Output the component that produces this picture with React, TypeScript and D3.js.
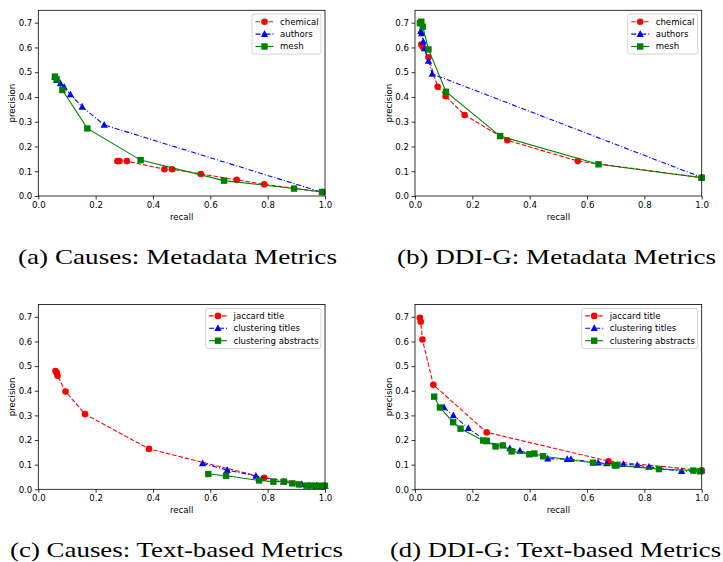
import { useEffect, useRef } from "react";
import * as d3 from "d3";

type Pt = [number, number];

// (a) Causes: metadata metrics  [recall, precision]
const causesChemical: Pt[] = [[0.276, 0.141], [0.283, 0.141], [0.309, 0.141], [0.44, 0.108], [0.467, 0.108], [0.567, 0.089], [0.692, 0.065], [0.788, 0.047], [0.99, 0.016]];
const causesAuthors: Pt[] = [[0.058, 0.48], [0.064, 0.468], [0.077, 0.455], [0.09, 0.44], [0.112, 0.41], [0.153, 0.36], [0.23, 0.287], [0.99, 0.015]];
const causesMesh: Pt[] = [[0.058, 0.482], [0.064, 0.471], [0.084, 0.428], [0.171, 0.273], [0.357, 0.145], [0.648, 0.062], [0.892, 0.03], [0.99, 0.016]];

// (b) DDI-G: metadata metrics
const ddiChemical: Pt[] = [[0.022, 0.612], [0.027, 0.603], [0.047, 0.56], [0.079, 0.441], [0.107, 0.403], [0.173, 0.327], [0.322, 0.225], [0.568, 0.141], [1.0, 0.074]];
const ddiAuthors: Pt[] = [[0.02, 0.666], [0.023, 0.657], [0.029, 0.623], [0.033, 0.596], [0.047, 0.545], [0.06, 0.493], [1.0, 0.075]];
const ddiMesh: Pt[] = [[0.017, 0.698], [0.022, 0.704], [0.027, 0.684], [0.047, 0.592], [0.108, 0.421], [0.297, 0.242], [0.64, 0.128], [1.0, 0.074]];

// (c) Causes: text-based metrics
const causesJaccard: Pt[] = [[0.06, 0.48], [0.064, 0.474], [0.067, 0.461], [0.095, 0.397], [0.163, 0.305], [0.386, 0.164], [0.788, 0.047], [0.99, 0.014]];
const causesTitles: Pt[] = [[0.573, 0.105], [0.659, 0.078], [0.759, 0.054], [0.855, 0.031], [0.919, 0.02], [0.971, 0.015], [1.0, 0.014]];
const causesAbstracts: Pt[] = [[0.593, 0.062], [0.655, 0.055], [0.77, 0.036], [0.82, 0.031], [0.857, 0.031], [0.886, 0.024], [0.909, 0.02], [0.936, 0.015], [0.952, 0.015], [0.968, 0.014], [0.984, 0.014], [1.0, 0.014]];

// (d) DDI-G: text-based metrics
const ddiJaccard: Pt[] = [[0.017, 0.696], [0.02, 0.68], [0.026, 0.608], [0.064, 0.424], [0.25, 0.231], [0.675, 0.114], [1.0, 0.077]];
const ddiTitles: Pt[] = [[0.101, 0.332], [0.134, 0.3], [0.186, 0.248], [0.25, 0.194], [0.331, 0.166], [0.366, 0.156], [0.463, 0.124], [0.531, 0.122], [0.544, 0.122], [0.639, 0.108], [0.669, 0.105], [0.727, 0.102], [0.775, 0.098], [0.816, 0.091], [0.93, 0.073], [1.0, 0.075]];
const ddiAbstracts: Pt[] = [[0.067, 0.376], [0.087, 0.332], [0.133, 0.272], [0.159, 0.246], [0.238, 0.198], [0.25, 0.197], [0.281, 0.174], [0.306, 0.178], [0.337, 0.154], [0.399, 0.142], [0.416, 0.145], [0.447, 0.134], [0.621, 0.108], [0.697, 0.097], [0.703, 0.097], [0.851, 0.082], [0.971, 0.076], [0.995, 0.073]];

const xTicks = [0, 0.2, 0.4, 0.6, 0.8, 1.0];
const yTicks = [0, 0.1, 0.2, 0.3, 0.4, 0.5, 0.6, 0.7];

const metaLabels = ["chemical", "authors", "mesh"];
const textLabels = ["jaccard title", "clustering titles", "clustering abstracts"];

const styles = [
  { color: "#ff0000", dash: "4.5,2", marker: "circle" },
  { color: "#0000ff", dash: "5,2,1,2", marker: "triangle" },
  { color: "#008000", dash: null, marker: "square" },
];

const FONT = "DejaVu Sans, sans-serif";

type PanelProps = {
  x0: number; x1: number; y0: number; y1: number;
  data: Pt[][]; labels: string[]; legendW: number;
};

function drawMarker(sel: any, kind: string, color: string) {
  if (kind === "circle") {
    sel.append("circle").attr("r", 3.3).attr("fill", color);
  } else if (kind === "square") {
    sel.append("rect").attr("x", -3.2).attr("y", -3.2).attr("width", 6.4).attr("height", 6.4).attr("fill", color);
  } else {
    sel.append("path").attr("d", "M0,-4 L3.6,2.8 L-3.6,2.8 Z").attr("fill", color);
  }
}

function Panel({ x0, x1, y0, y1, data, labels, legendW }: PanelProps) {
  const ref = useRef<SVGGElement>(null);

  useEffect(() => {
    const g = d3.select(ref.current);
    g.selectAll("*").remove();

    const xs = d3.scaleLinear().domain([0, 1]).range([x0, x1]);
    const ys = d3.scaleLinear().domain([0, 0.75]).range([y1, y0]);

    const xAxis = g.append("g").attr("transform", `translate(0,${y1})`)
      .call(d3.axisBottom(xs).tickValues(xTicks).tickFormat(d3.format(".1f")).tickSize(3.5).tickPadding(2.5));
    const yAxis = g.append("g").attr("transform", `translate(${x0},0)`)
      .call(d3.axisLeft(ys).tickValues(yTicks).tickFormat(d3.format(".1f")).tickSize(3.5).tickPadding(2.5));
    [xAxis, yAxis].forEach((a) => {
      a.select(".domain").remove();
      a.selectAll("line").attr("stroke", "#000").attr("stroke-width", 0.8);
      a.selectAll("text").attr("font-family", FONT).attr("font-size", 8.6).attr("fill", "#000");
    });

    const line = d3.line<Pt>().x((d) => xs(d[0])).y((d) => ys(d[1]));

    data.forEach((pts, i) => {
      const st = styles[i];
      g.append("path").attr("d", line(pts)).attr("fill", "none")
        .attr("stroke", st.color).attr("stroke-width", 1.1)
        .attr("stroke-dasharray", st.dash);
      pts.forEach((p) => {
        const m = g.append("g").attr("transform", `translate(${xs(p[0])},${ys(p[1])})`);
        drawMarker(m, st.marker, st.color);
      });
    });

    g.append("rect").attr("x", x0).attr("y", y0).attr("width", x1 - x0).attr("height", y1 - y0)
      .attr("fill", "none").attr("stroke", "#000").attr("stroke-width", 0.8);

    g.append("text").attr("x", (x0 + x1) / 2).attr("y", y1 + 24).attr("text-anchor", "middle")
      .attr("font-family", FONT).attr("font-size", 8.6).text("recall");
    g.append("text").attr("transform", `translate(${x0 - 23.5},${(y0 + y1) / 2}) rotate(-90)`)
      .attr("text-anchor", "middle").attr("font-family", FONT).attr("font-size", 8.6).text("precision");

    // legend
    const lx = x1 - 4 - legendW;
    const ly = y0 + 3.8;
    const lg = g.append("g").attr("transform", `translate(${lx},${ly})`);
    lg.append("rect").attr("width", legendW).attr("height", 40).attr("rx", 2)
      .attr("fill", "#fff").attr("fill-opacity", 0.8).attr("stroke", "#cccccc").attr("stroke-width", 0.8);
    labels.forEach((lab, i) => {
      const st = styles[i];
      const yy = 7.6 + i * 12.4;
      lg.append("line").attr("x1", 3.5).attr("x2", 21.5).attr("y1", yy).attr("y2", yy)
        .attr("stroke", st.color).attr("stroke-width", 1.1).attr("stroke-dasharray", st.dash);
      drawMarker(lg.append("g").attr("transform", `translate(12.5,${yy})`), st.marker, st.color);
      lg.append("text").attr("x", 28).attr("y", yy + 3).attr("font-family", FONT)
        .attr("font-size", 8.6).text(lab);
    });
  }, [x0, x1, y0, y1, data, labels, legendW]);

  return <g ref={ref} />;
}

const captions = [
  { text: "(a) Causes: Metadata Metrics", x: 177.5, y: 264, w: 319 },
  { text: "(b) DDI-G: Metadata Metrics", x: 556.5, y: 264, w: 319 },
  { text: "(c) Causes: Text-based Metrics", x: 176.5, y: 557, w: 333 },
  { text: "(d) DDI-G: Text-based Metrics", x: 555.5, y: 557, w: 331 },
];

export default function App() {
  return (
    <svg width={723} height={562} style={{ position: "absolute", left: 0, top: 0, background: "#fff" }}>
      <Panel x0={38.3} x1={325} y0={10.3} y1={196} data={[causesChemical, causesAuthors, causesMesh]} labels={metaLabels} legendW={69} />
      <Panel x0={415} x1={701.7} y0={10.3} y1={196} data={[ddiChemical, ddiAuthors, ddiMesh]} labels={metaLabels} legendW={70} />
      <Panel x0={38.3} x1={325} y0={304.5} y1={489.3} data={[causesJaccard, causesTitles, causesAbstracts]} labels={textLabels} legendW={115.5} />
      <Panel x0={415} x1={701.7} y0={304.5} y1={489.3} data={[ddiJaccard, ddiTitles, ddiAbstracts]} labels={textLabels} legendW={116} />
      {captions.map((c) => (
        <text key={c.text} x={c.x} y={c.y} textAnchor="middle" fontFamily="Liberation Serif, serif"
          fontSize={22} textLength={c.w} lengthAdjust="spacingAndGlyphs">{c.text}</text>
      ))}
    </svg>
  );
}
